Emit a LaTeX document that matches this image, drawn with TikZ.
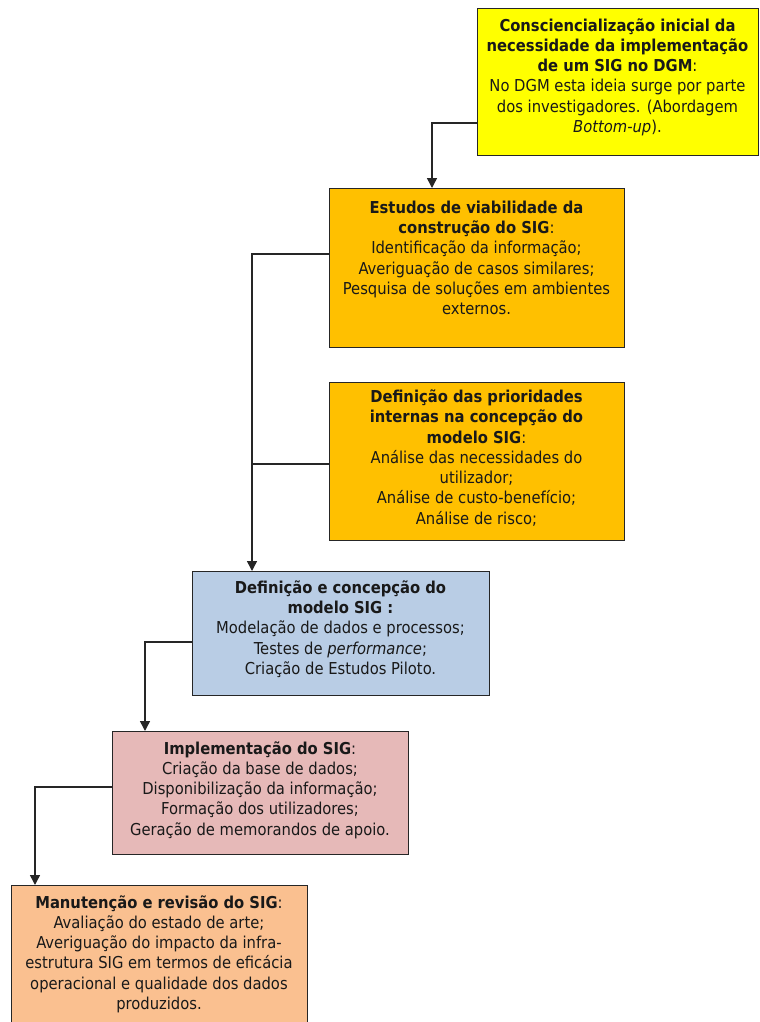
\documentclass[tikz,border=0pt]{standalone}
\usepackage{fontspec}
\setmainfont{DejaVu Sans Condensed}
\usetikzlibrary{arrows.meta}
\definecolor{cyellow}{HTML}{FFFF00}
\definecolor{corange}{HTML}{FFC000}
\definecolor{cblue}{HTML}{B9CDE5}
\definecolor{cpink}{HTML}{E6B9B8}
\definecolor{cpeach}{HTML}{FAC090}
\definecolor{cline}{HTML}{262626}
\tikzset{
  phase/.style={draw=cline, line width=0.9pt, inner sep=0pt, anchor=north west},
  label/.style={align=center, inner sep=0pt, font=\fontsize{12.3pt}{15.2pt}\selectfont, text=black!90},
  link/.style={draw=cline, line width=1.1pt},
  flow/.style={link, -{Triangle[width=7.5pt,length=7.5pt]}},
}
\begin{document}
\begin{tikzpicture}[x=0.75pt,y=-0.75pt]
\useasboundingbox (0,0) rectangle (760,1022);
\begin{scope}
\clip (0,0) rectangle (760,1022);
% boxes of the phases
\node[phase, fill=cyellow, minimum width=210.75pt, minimum height=110.25pt] (b1) at (477,8) {};
\node[phase, fill=corange, minimum width=221.25pt, minimum height=119.25pt] (b2) at (329,188) {};
\node[phase, fill=corange, minimum width=221.25pt, minimum height=118.5pt] (b3) at (329,382) {};
\node[phase, fill=cblue, minimum width=222.75pt, minimum height=93pt] (b4) at (192,571) {};
\node[phase, fill=cpink, minimum width=222pt, minimum height=92.25pt] (b5) at (112,731) {};
\node[phase, fill=cpeach, minimum width=222pt, minimum height=120pt] (b6) at (11,885) {};
\end{scope}

% texts
\node[label] (t1) at (617.5,77) {\textbf{Consciencialização inicial da}\\\textbf{necessidade da implementação}\\\textbf{de um SIG no DGM}:\\No DGM esta ideia surge por parte\\dos investigadores. (Abordagem\\\textit{Bottom-up}).};
\node[label] (t2) at (476.5,258) {\textbf{Estudos de viabilidade da}\\\textbf{construção do SIG}:\\Identificação da informação;\\Averiguação de casos similares;\\Pesquisa de soluções em ambientes\\externos.};
\node[label] (t3) at (476.5,458) {\textbf{Definição das prioridades}\\\textbf{internas na concepção do}\\\textbf{modelo SIG}:\\Análise das necessidades do\\utilizador;\\Análise de custo-benefício;\\Análise de risco;};
\node[label] (t4) at (340.5,629) {\textbf{Definição e concepção do}\\\textbf{modelo SIG :}\\Modelação de dados e processos;\\Testes de \textit{performance};\\Criação de Estudos Piloto.};
\node[label] (t5) at (260,790) {\textbf{Implementação do SIG}:\\Criação da base de dados;\\Disponibilização da informação;\\Formação dos utilizadores;\\Geração de memorandos de apoio.};
\node[label] (t6) at (159,954) {\textbf{Manutenção e revisão do SIG}:\\Avaliação do estado de arte;\\Averiguação do impacto da infra-\\estrutura SIG em termos de eficácia\\operacional e qualidade dos dados\\produzidos.};

% connectors
\coordinate (j1) at (432,123);
\coordinate (j2) at (252,254);
\coordinate (j3) at (252,464);
\coordinate (j4) at (145,642);
\coordinate (j5) at (35,787);
\draw[flow] (b1.west |- j1) -- (j1) -- (j1 |- b2.north);
\draw[flow] (b2.west |- j2) -- (j2) -- (j2 |- b4.north);
\draw[link] (b3.west |- j3) -- (j3);
\draw[flow] (b4.west |- j4) -- (j4) -- (j4 |- b5.north);
\draw[flow] (b5.west |- j5) -- (j5) -- (j5 |- b6.north);
\end{tikzpicture}
\end{document}
